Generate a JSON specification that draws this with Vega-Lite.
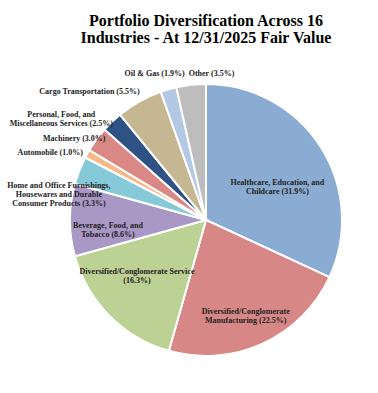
{
  "$schema": "https://vega.github.io/schema/vega-lite/v6.json",
  "autosize": {"type": "none"},
  "width": 344,
  "height": 346,
  "padding": {"left": 34, "right": 0, "top": 47, "bottom": 0},
  "background": "white",
  "title": {
    "text": ["Portfolio Diversification Across 16", "Industries - At 12/31/2025 Fair Value"],
    "font": "Liberation Serif",
    "fontSize": 16,
    "fontWeight": "bold",
    "color": "black",
    "anchor": "middle",
    "lineHeight": 17,
    "offset": 1
  },
  "config": {"view": {"stroke": null}},
  "data": {
    "values": [
      {"idx": 1, "name": "Healthcare", "label": "Healthcare, Education, and\nChildcare (31.9%)", "pct": 31.9},
      {"idx": 2, "name": "Manufacturing", "label": "Diversified/Conglomerate\nManufacturing (22.5%)", "pct": 22.5},
      {"idx": 3, "name": "Service", "label": "Diversified/Conglomerate Service\n(16.3%)", "pct": 16.3},
      {"idx": 4, "name": "Beverage", "label": "Beverage, Food, and\nTobacco (8.6%)", "pct": 8.6},
      {"idx": 5, "name": "Home", "label": "Home and Office Furnishings,\nHousewares and Durable\nConsumer Products (3.3%)", "pct": 3.3},
      {"idx": 6, "name": "Automobile", "label": "Automobile (1.0%)", "pct": 1.0},
      {"idx": 7, "name": "Machinery", "label": "Machinery (3.0%)", "pct": 3.0},
      {"idx": 8, "name": "Personal", "label": "Personal, Food, and\nMiscellaneous Services (2.5%)", "pct": 2.5},
      {"idx": 9, "name": "Cargo", "label": "Cargo Transportation (5.5%)", "pct": 5.5},
      {"idx": 10, "name": "Oil", "label": "Oil & Gas (1.9%)", "pct": 1.9},
      {"idx": 11, "name": "Other", "label": "Other (3.5%)", "pct": 3.5}
    ]
  },
  "encoding": {
    "theta": {"field": "pct", "type": "quantitative", "stack": true},
    "order": {"field": "idx", "type": "quantitative"}
  },
  "layer": [
    {
      "mark": {"type": "arc", "radius": 136, "stroke": "white", "strokeWidth": 2},
      "encoding": {
        "color": {
          "field": "name", "type": "nominal", "legend": null,
          "scale": {
            "domain": ["Healthcare", "Manufacturing", "Service", "Beverage", "Home", "Automobile", "Machinery", "Personal", "Cargo", "Oil", "Other"],
            "range": ["#8AACD2", "#D78785", "#BCD194", "#A997C5", "#86C9D9", "#F6B886", "#D98886", "#2E5283", "#C6B793", "#B3C8E3", "#BDBDBD"]
          }
        }
      }
    },
    {
      "mark": {"type": "text", "radius": 80, "dx": 4, "dy": 6, "font": "Liberation Serif", "fontWeight": "bold", "fontSize": 8, "lineBreak": "\n", "lineHeight": 9, "color": "#222"},
      "encoding": {"text": {"condition": {"test": "datum.name === 'Healthcare'", "field": "label"}, "value": ""}}
    },
    {
      "mark": {"type": "text", "radius": 100, "dx": -2, "dy": 1, "font": "Liberation Serif", "fontWeight": "bold", "fontSize": 8, "lineBreak": "\n", "lineHeight": 9, "color": "#222"},
      "encoding": {"text": {"condition": {"test": "datum.name === 'Manufacturing'", "field": "label"}, "value": ""}}
    },
    {
      "mark": {"type": "text", "radius": 86, "dx": -8, "dy": -9, "font": "Liberation Serif", "fontWeight": "bold", "fontSize": 8, "lineBreak": "\n", "lineHeight": 9, "color": "#222"},
      "encoding": {"text": {"condition": {"test": "datum.name === 'Service'", "field": "label"}, "value": ""}}
    },
    {
      "mark": {"type": "text", "radius": 98, "dx": 0, "dy": 6, "font": "Liberation Serif", "fontWeight": "bold", "fontSize": 8, "lineBreak": "\n", "lineHeight": 9, "color": "#222"},
      "encoding": {"text": {"condition": {"test": "datum.name === 'Beverage'", "field": "label"}, "value": ""}}
    },
    {
      "mark": {"type": "text", "radius": 158, "dx": 0, "dy": 24, "font": "Liberation Serif", "fontWeight": "bold", "fontSize": 8, "lineBreak": "\n", "lineHeight": 9, "color": "#222"},
      "encoding": {"text": {"condition": {"test": "datum.name === 'Home'", "field": "label"}, "value": ""}}
    },
    {
      "mark": {"type": "text", "radius": 160, "dx": -16, "dy": 11, "font": "Liberation Serif", "fontWeight": "bold", "fontSize": 8, "lineBreak": "\n", "lineHeight": 9, "color": "#222"},
      "encoding": {"text": {"condition": {"test": "datum.name === 'Automobile'", "field": "label"}, "value": ""}}
    },
    {
      "mark": {"type": "text", "radius": 150, "dx": -11, "dy": 8, "font": "Liberation Serif", "fontWeight": "bold", "fontSize": 8, "lineBreak": "\n", "lineHeight": 9, "color": "#222"},
      "encoding": {"text": {"condition": {"test": "datum.name === 'Machinery'", "field": "label"}, "value": ""}}
    },
    {
      "mark": {"type": "text", "radius": 150, "dx": -41, "dy": 3, "font": "Liberation Serif", "fontWeight": "bold", "fontSize": 8, "lineBreak": "\n", "lineHeight": 9, "color": "#222"},
      "encoding": {"text": {"condition": {"test": "datum.name === 'Personal'", "field": "label"}, "value": ""}}
    },
    {
      "mark": {"type": "text", "radius": 150, "dx": -43, "dy": 3, "font": "Liberation Serif", "fontWeight": "bold", "fontSize": 8, "lineBreak": "\n", "lineHeight": 9, "color": "#222"},
      "encoding": {"text": {"condition": {"test": "datum.name === 'Cargo'", "field": "label"}, "value": ""}}
    },
    {
      "mark": {"type": "text", "radius": 150, "dx": -10, "dy": -2, "font": "Liberation Serif", "fontWeight": "bold", "fontSize": 8, "lineBreak": "\n", "lineHeight": 9, "color": "#222"},
      "encoding": {"text": {"condition": {"test": "datum.name === 'Oil'", "field": "label"}, "value": ""}}
    },
    {
      "mark": {"type": "text", "radius": 150, "dx": 22, "dy": 3, "font": "Liberation Serif", "fontWeight": "bold", "fontSize": 8, "lineBreak": "\n", "lineHeight": 9, "color": "#222"},
      "encoding": {"text": {"condition": {"test": "datum.name === 'Other'", "field": "label"}, "value": ""}}
    }
  ]
}
